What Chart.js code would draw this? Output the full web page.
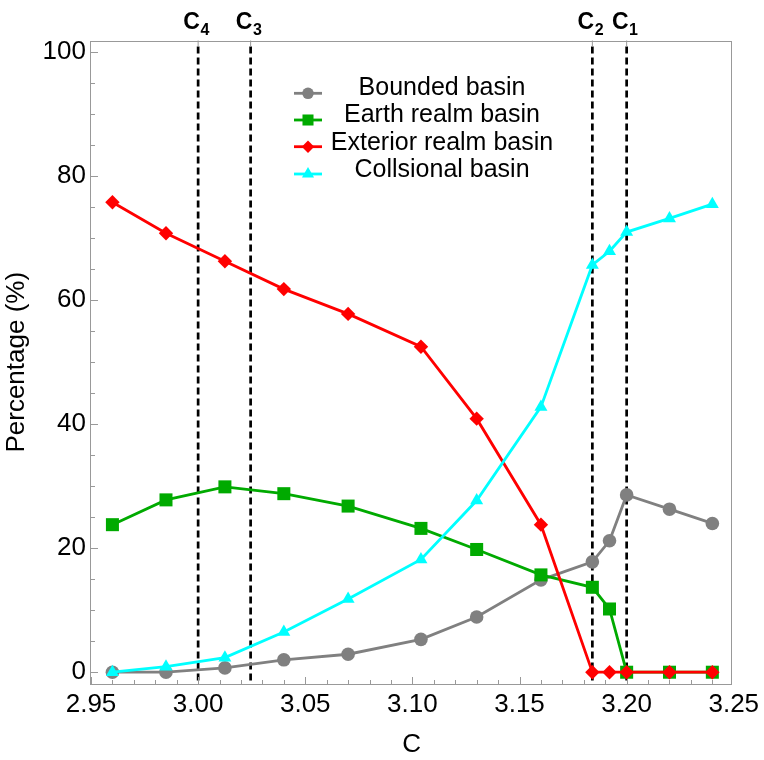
<!DOCTYPE html>
<html><head><meta charset="utf-8">
<script src="https://cdn.jsdelivr.net/npm/chart.js@4/dist/chart.umd.min.js"></script>
<style>html,body{margin:0;padding:0;background:#fff;}</style>
</head><body>
<canvas id="c" width="764" height="760"></canvas>
<script>
// ---- data ----
const cValues = [2.96, 2.985, 3.0125, 3.04, 3.07, 3.104, 3.13, 3.16, 3.184, 3.192, 3.20, 3.22, 3.24];
const boundedBasin = [0, 0, 0.7, 2.0, 2.9, 5.3, 8.9, 14.9, 17.8, 21.2, 28.6, 26.3, 24.0];
const earthRealmBasin = [23.8, 27.8, 29.9, 28.8, 26.8, 23.2, 19.8, 15.7, 13.7, 10.2, 0, 0, 0];
const exteriorRealmBasin = [75.8, 70.8, 66.3, 61.8, 57.8, 52.5, 40.9, 23.8, 0, 0, 0, 0, 0];
const collisionalBasin = [0, 0.9, 2.35, 6.5, 11.8, 18.2, 27.7, 42.8, 65.7, 67.9, 71.0, 73.2, 75.5];
const criticalC = [3.000, 3.0245, 3.184, 3.200];
const criticalSub = ['4', '3', '2', '1'];
const xTicks = [2.95, 3.00, 3.05, 3.10, 3.15, 3.20, 3.25];
const yTicks = [0, 20, 40, 60, 80, 100];
const seriesNames = ['Bounded basin', 'Earth realm basin', 'Exterior realm basin', 'Collsional basin'];

const FONT = '"Liberation Sans", Arial, Helvetica, sans-serif';
const X_MIN = 2.95, X_MAX = 3.2492, Y_MIN = -1.9, Y_MAX = 101.9;
const colors = ['#808080', '#00aa00', '#ff0000', '#00ffff'];
const styles = ['circle', 'rect', 'rectRot', 'triangle'];
const radii = [6.8, 9.2, 7.2, 7.5];
const legendRadii = [5.8, 7.8, 6.2, 7];
const drawOrder = [3, 2, 1, 0];
const seriesValues = [boundedBasin, earthRealmBasin, exteriorRealmBasin, collisionalBasin];

const datasets = seriesNames.map((name, k) => ({
  label: name,
  data: cValues.map((c, i) => ({x: c, y: seriesValues[k][i]})),
  borderColor: colors[k],
  backgroundColor: colors[k],
  pointBackgroundColor: colors[k],
  pointBorderColor: colors[k],
  pointBorderWidth: 0,
  pointStyle: styles[k],
  pointRadius: radii[k],
  pointHoverRadius: radii[k],
  borderWidth: 2.8,
  tension: 0,
  fill: false,
  clip: false,
  order: drawOrder[k]
}));

function drawMarker(ctx, style, r, x, y) {
  ctx.beginPath();
  if (style === 'circle') {
    ctx.arc(x, y, r, 0, Math.PI * 2);
  } else if (style === 'rect') {
    const s = r * Math.SQRT1_2;
    ctx.rect(x - s, y - s, 2 * s, 2 * s);
  } else if (style === 'rectRot') {
    ctx.moveTo(x - r, y); ctx.lineTo(x, y - r); ctx.lineTo(x + r, y); ctx.lineTo(x, y + r); ctx.closePath();
  } else if (style === 'triangle') {
    for (let j = 0; j < 3; j++) {
      const ang = -Math.PI / 2 + j * 2 * Math.PI / 3;
      const px = x + r * Math.cos(ang), py = y + r * Math.sin(ang);
      if (j === 0) ctx.moveTo(px, py); else ctx.lineTo(px, py);
    }
    ctx.closePath();
  }
  ctx.fill();
}

const framePlugin = {
  id: 'framePlugin',
  beforeDatasetsDraw(chart) {
    const {ctx, chartArea: a, scales: {x, y}} = chart;
    ctx.save();
    // critical-value dashed lines
    ctx.strokeStyle = '#000';
    ctx.lineWidth = 2.7;
    ctx.setLineDash([7, 4]);
    criticalC.forEach(c => {
      const px = x.getPixelForValue(c);
      ctx.beginPath(); ctx.moveTo(px, a.top + 6); ctx.lineTo(px, a.bottom); ctx.stroke();
    });
    ctx.setLineDash([]);
    // frame
    ctx.strokeStyle = '#999';
    ctx.lineWidth = 1;
    ctx.strokeRect(Math.round(a.left) - 0.5, Math.round(a.top) + 0.5, Math.round(a.right - a.left), Math.round(a.bottom - a.top) - 1);
    // inner ticks
    ctx.beginPath();
    for (let v = 0; v <= 100; v += 5) {
      const py = Math.round(y.getPixelForValue(v)) + 0.5;
      const len = (v % 20 === 0) ? 7 : 4;
      ctx.moveTo(a.left, py); ctx.lineTo(a.left + len, py);
    }
    for (let i = 0; i <= 30; i++) {
      const v = 2.95 + i * 0.01;
      if (v > X_MAX) continue;
      const px = Math.round(x.getPixelForValue(v)) + 0.5;
      const len = (i % 5 === 0) ? 7 : 4;
      ctx.moveTo(px, a.bottom); ctx.lineTo(px, a.bottom - len);
    }
    criticalC.forEach(c => {
      const px = x.getPixelForValue(c);
      ctx.moveTo(px, a.top); ctx.lineTo(px, a.top + 6);
    });
    ctx.stroke();
    // top labels C_n
    ctx.fillStyle = '#000';
    ctx.textBaseline = 'alphabetic';
    ctx.textAlign = 'left';
    criticalC.forEach((c, i) => {
      const px = x.getPixelForValue(c);
      ctx.font = 'bold 23px ' + FONT;
      const wC = ctx.measureText('C').width;
      ctx.font = 'bold 16px ' + FONT;
      const wS = ctx.measureText(criticalSub[i]).width;
      const x0 = px - (wC + wS) / 2 - 2;
      ctx.font = 'bold 23px ' + FONT;
      ctx.fillText('C', x0, 28.8);
      ctx.font = 'bold 16px ' + FONT;
      ctx.fillText(criticalSub[i], x0 + wC + 0.5, 35);
    });
    ctx.restore();
  },
  afterDatasetsDraw(chart) {
    const {ctx} = chart;
    ctx.save();
    const textBase = [94.7, 122.3, 149.7, 177.3];
    const markY = [93.3, 120, 146.7, 174];
    seriesNames.forEach((name, k) => {
      ctx.strokeStyle = colors[k];
      ctx.fillStyle = colors[k];
      ctx.lineWidth = 2.8;
      ctx.beginPath(); ctx.moveTo(294, markY[k]); ctx.lineTo(322, markY[k]); ctx.stroke();
      drawMarker(ctx, styles[k], legendRadii[k], 308, markY[k]);
      ctx.fillStyle = '#000';
      ctx.font = '25px ' + FONT;
      ctx.textAlign = 'center';
      ctx.textBaseline = 'alphabetic';
      ctx.fillText(name, 442, textBase[k]);
    });
    ctx.restore();
  }
};

new Chart(document.getElementById('c'), {
  type: 'line',
  data: {datasets},
  options: {
    responsive: false,
    devicePixelRatio: 1,
    animation: false,
    events: [],
    layout: {padding: {left: 0, right: 28, top: 40.5, bottom: 0}},
    plugins: {legend: {display: false}, tooltip: {enabled: false}},
    scales: {
      x: {
        type: 'linear', position: 'bottom', min: X_MIN, max: X_MAX,
        afterBuildTicks: s => { s.ticks = xTicks.map(v => ({value: v})); },
        afterFit: s => { s.height = 76; },
        grid: {display: false, drawTicks: false},
        border: {display: false},
        ticks: {font: {family: FONT, size: 26}, color: '#000', padding: 5, maxRotation: 0, autoSkip: false,
                callback: v => Number(v).toFixed(2)},
        title: {display: true, text: 'C', font: {family: FONT, size: 26}, color: '#000', padding: 0}
      },
      y: {
        type: 'linear', position: 'left', min: Y_MIN, max: Y_MAX,
        afterBuildTicks: s => { s.ticks = yTicks.map(v => ({value: v})); },
        afterFit: s => { s.width = 91; },
        grid: {display: false, drawTicks: false},
        border: {display: false},
        ticks: {font: {family: FONT, size: 26}, color: '#000', padding: 5, callback: v => String(v)},
        title: {display: true, text: 'Percentage (%)', font: {family: FONT, size: 26}, color: '#000', padding: 1}
      }
    }
  },
  plugins: [framePlugin]
});
</script>
</body></html>
